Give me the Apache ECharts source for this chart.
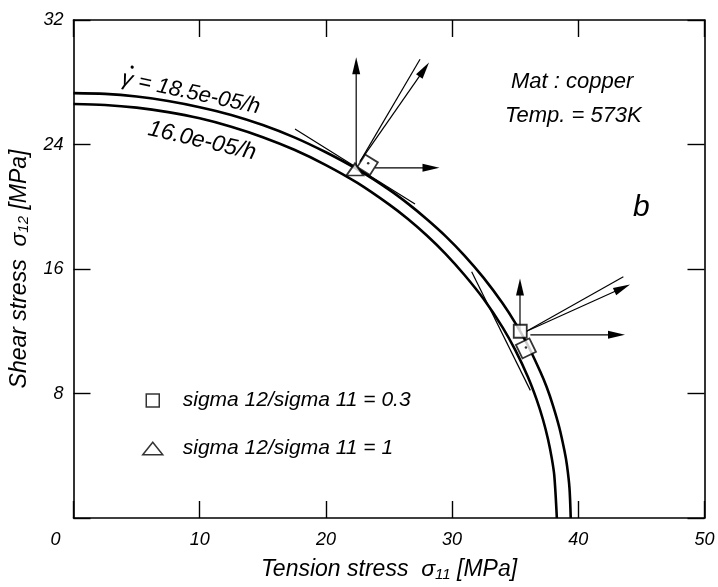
<!DOCTYPE html>
<html><head><meta charset="utf-8">
<script src="https://cdn.jsdelivr.net/npm/echarts@6/dist/echarts.min.js"></script>
<style>html,body{margin:0;padding:0;background:#fff}#c{width:718px;height:587px}</style>
</head><body><div id="c"></div>
<script>
// ---- data ----
const xTicks = [0, 10, 20, 30, 40, 50];
const yTicks = [0, 8, 16, 24, 32];
// creep-rate iso-curve gamma_dot = 18.5e-05/h (outer)
const curve185 = [[0,27.3],[2.5,27.25],[5,27.08],[7.5,26.8],[10,26.4],[12.5,25.9],[15,25.25],[17.5,24.46],[20,23.5],[22.5,22.4],[25,21.1],[26.5,20.2],[28,19.2],[29.5,18.1],[31,16.85],[32.5,15.43],[34,13.8],[35,12.54],[36,11.1],[37,9.38],[37.5,8.4],[38,7.21],[38.5,5.8],[38.9,4.33],[39.1,3.4],[39.3,1.94],[39.4,0]];
// creep-rate iso-curve 16.0e-05/h (inner)
const curve160 = [[0,26.6],[2.5,26.54],[5,26.37],[7.5,26.08],[10,25.68],[12.5,25.14],[15,24.47],[17.5,23.66],[20,22.68],[22.5,21.53],[25,20.15],[26.5,19.21],[28,18.15],[29.5,16.96],[31,15.6],[32.5,14.07],[34,12.25],[35,10.8],[36,9.08],[36.7,7.61],[37.2,6.33],[37.6,5.06],[37.9,3.83],[38.1,2.71],[38.3,0]];
// measured points
const squareRatio03 = [[35.4, 12.0]];
const triangleRatio1 = [[22.3, 22.4]];
// rotated squares (x, y, rotation deg) and their centre dots
const rotatedSquares = [[23.3, 22.7, -32], [35.85, 10.9, 26]];
const rotatedDots = [[23.35, 22.8], [35.85, 10.95]];
// vectors / tangents: x1, y1, x2, y2, arrowhead(1/0)
const segments = [
  [22.4, 22.5, 22.4, 29.6, 1],
  [23.9, 22.5, 29.0, 22.5, 1],
  [22.7, 22.9, 27.46, 29.48, 0],
  [22.7, 22.9, 28.17, 29.27, 1],
  [17.55, 25.0, 27.06, 20.18, 0],
  [35.38, 12.0, 35.38, 15.39, 1],
  [36.2, 11.77, 43.7, 11.77, 1],
  [35.9, 12.0, 43.57, 15.5, 0],
  [35.9, 12.0, 44.1, 15.0, 1],
  [31.55, 15.82, 36.2, 8.2, 0]
];
const legendNames = ['sigma 12/sigma 11 = 0.3', 'sigma 12/sigma 11 = 1'];

const FONT = "'Liberation Sans', Arial, sans-serif";
const chart = echarts.init(document.getElementById('c'), null, {renderer: 'canvas'});

const axisCommon = {
  type: 'value',
  axisLine: {show: true, onZero: false, lineStyle: {color: '#000', width: 1.6}},
  axisTick: {show: true, inside: true, length: 17, lineStyle: {color: '#000', width: 1.4}},
  splitLine: {show: false}
};

function renderSeg(params, api) {
  const a = api.coord([api.value(0), api.value(1)]);
  const b = api.coord([api.value(2), api.value(3)]);
  const head = api.value(4);
  const children = [];
  const dx = b[0] - a[0], dy = b[1] - a[1];
  const L = Math.sqrt(dx*dx + dy*dy);
  const ux = dx / L, uy = dy / L;
  const hl = 17, hw = 4;
  const lineEnd = head ? [b[0] - ux*hl*0.6, b[1] - uy*hl*0.6] : b;
  children.push({type: 'line', shape: {x1: a[0], y1: a[1], x2: lineEnd[0], y2: lineEnd[1]},
    style: {stroke: '#000', lineWidth: 1.2}});
  if (head) {
    const bx = b[0] - ux*hl, by = b[1] - uy*hl;
    children.push({type: 'polygon', shape: {points: [
      [b[0], b[1]], [bx - uy*hw, by + ux*hw], [bx + uy*hw, by - ux*hw]]},
      style: {fill: '#000'}});
  }
  return {type: 'group', children};
}

const nameRich = {
  a: {fontFamily: FONT, fontStyle: 'italic', fontSize: 23, color: '#000'},
  s: {fontFamily: FONT, fontStyle: 'italic', fontSize: 15, color: '#000', verticalAlign: 'bottom', padding: [9, 0, 0, 0]}
};

const option = {
  animation: false,
  backgroundColor: '#fff',
  grid: {left: 73.5, right: 13.5, top: 20, bottom: 66},
  xAxis: [
    Object.assign({}, axisCommon, {
      min: 0, max: 50, interval: 10, position: 'bottom',
      axisLabel: {
        color: '#000', fontFamily: FONT, fontStyle: 'italic', fontSize: 18, margin: 13,
        formatter: v => v === 0 ? '{z|0}' : String(v),
        rich: {z: {fontFamily: FONT, fontStyle: 'italic', fontSize: 18, color: '#000', padding: [0, 36, 0, 0]}}
      },
      name: '{a|Tension stress  σ}{s|11}{a| [MPa]}', nameLocation: 'middle', nameGap: 40,
      nameTextStyle: {rich: nameRich}
    }),
    Object.assign({}, axisCommon, {min: 0, max: 50, interval: 10, position: 'top', axisLabel: {show: false}})
  ],
  yAxis: [
    Object.assign({}, axisCommon, {
      min: 0, max: 32, interval: 8, position: 'left',
      axisLabel: {color: '#000', fontFamily: FONT, fontStyle: 'italic', fontSize: 18, margin: 10,
        formatter: v => v === 0 ? '' : String(v)},
      name: '{a|Shear stress  σ}{s|12}{a| [MPa]}', nameLocation: 'middle', nameGap: 42, nameRotate: 90,
      nameTextStyle: {rich: nameRich}
    }),
    Object.assign({}, axisCommon, {min: 0, max: 32, interval: 8, position: 'right', axisLabel: {show: false}})
  ],
  legend: {
    orient: 'vertical', left: 137, top: 385, itemGap: 27,
    itemWidth: 20, itemHeight: 13,
    data: [
      {name: legendNames[0], icon: 'path://M0,0H12V12H0Z'},
      {name: legendNames[1], icon: 'path://M0,12L9.5,0L19,12Z'}
    ],
    itemStyle: {color: '#fff', borderColor: '#000', borderWidth: 1.5},
    textStyle: {fontFamily: FONT, fontStyle: 'italic', fontSize: 21, color: '#000', padding: [0, 0, 0, 15]},
    selectedMode: false
  },
  graphic: [
    {type: 'text', left: 511, top: 71, style: {text: 'Mat : copper', font: 'italic 22px ' + FONT, fill: '#000'}},
    {type: 'text', left: 505, top: 105, style: {text: 'Temp. = 573K', font: 'italic 22px ' + FONT, fill: '#000'}},
    {type: 'text', left: 633, top: 193, style: {text: 'b', font: 'italic 30px ' + FONT, fill: '#000'}},
    {type: 'group', x: 196, y: 94, rotation: -12 * Math.PI / 180, children: [
      {type: 'text', x: -76, y: 0, style: {text: 'γ = 18.5e-05/h', font: 'italic 22px ' + FONT, fill: '#000', align: 'left', verticalAlign: 'middle'}},
      {type: 'circle', shape: {cx: -68, cy: -13, r: 1.6}, style: {fill: '#000'}}
    ]},
    {type: 'text', x: 202, y: 141, rotation: -13 * Math.PI / 180,
      style: {text: '16.0e-05/h', font: 'italic 23px ' + FONT, fill: '#000', align: 'center', verticalAlign: 'middle'}}
  ],
  series: [
    {type: 'line', name: 'c185', data: curve185, smooth: 0.3, showSymbol: false, symbol: 'none',
      lineStyle: {color: '#000', width: 2.6}, z: 3, silent: true},
    {type: 'line', name: 'c160', data: curve160, smooth: 0.3, showSymbol: false, symbol: 'none',
      lineStyle: {color: '#000', width: 2.6}, z: 3, silent: true},
    {type: 'custom', name: 'vectors', renderItem: renderSeg, data: segments, z: 4, silent: true},
    {type: 'scatter', name: 'rot', data: rotatedSquares.map(d => ({value: [d[0], d[1]], symbolRotate: d[2]})),
      symbol: 'rect', symbolSize: 15, itemStyle: {color: '#fff', borderColor: '#000', borderWidth: 1.8}, z: 5, silent: true},
    {type: 'scatter', name: 'rotdot', data: rotatedDots, symbol: 'circle', symbolSize: 2.5,
      itemStyle: {color: '#000'}, z: 6, silent: true},
    {type: 'scatter', name: legendNames[0], data: squareRatio03, symbol: 'rect', symbolSize: 13,
      itemStyle: {color: '#fff', borderColor: '#000', borderWidth: 1.8}, z: 7, silent: true},
    {type: 'scatter', name: legendNames[1], data: triangleRatio1, symbol: 'triangle', symbolSize: [17, 12],
      itemStyle: {color: '#fff', borderColor: '#000', borderWidth: 1.8}, z: 7, silent: true}
  ]
};
chart.setOption(option);
</script></body></html>
